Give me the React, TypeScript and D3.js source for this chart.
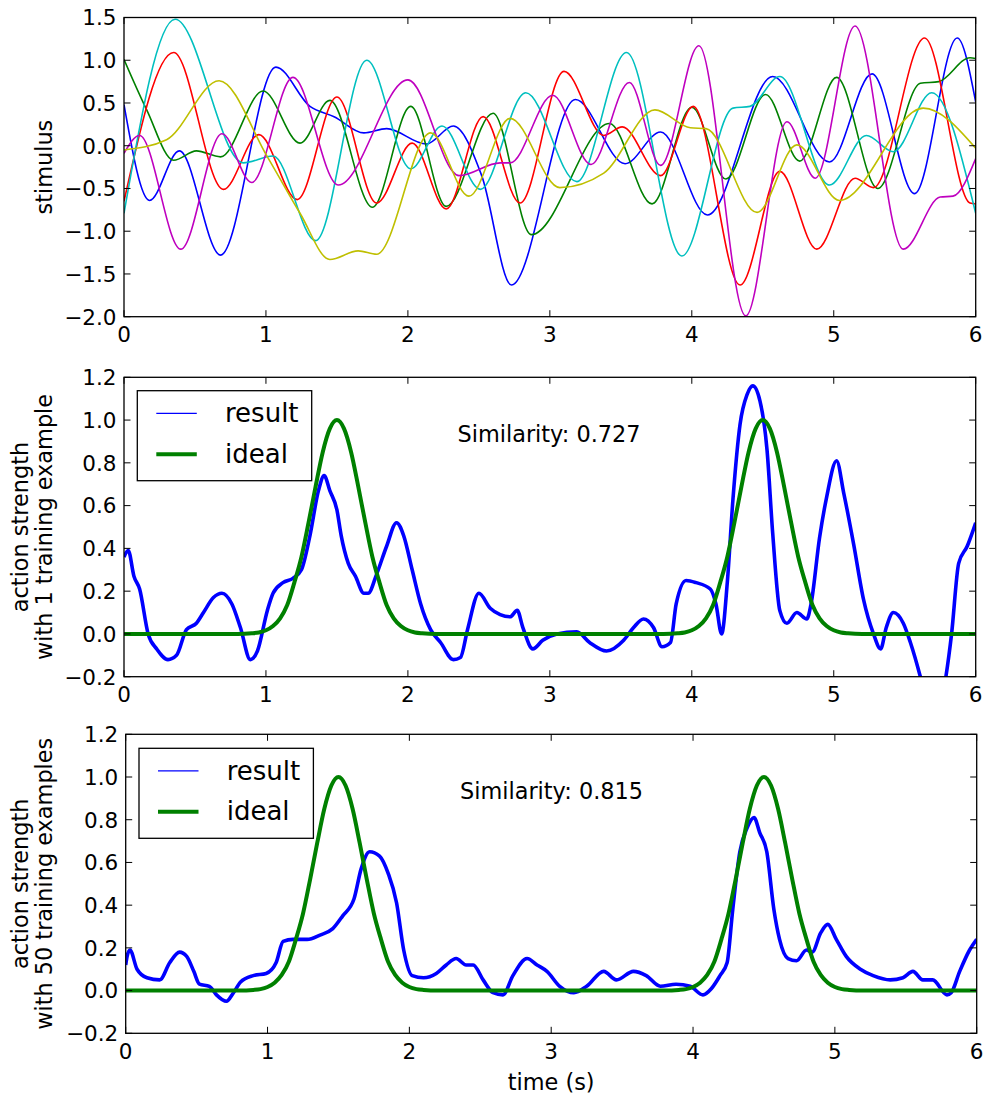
import React from "react";
import * as d3 from "d3";

// ---------- DATA ----------
const timeTicks = [0, 1, 2, 3, 4, 5, 6];
const stimulusTicks = [-2.0, -1.5, -1.0, -0.5, 0.0, 0.5, 1.0, 1.5];
const strengthTicks = [-0.2, 0.0, 0.2, 0.4, 0.6, 0.8, 1.0, 1.2];

type P = [number, number];

const stimBlue: P[] = [[0,0.48],[0.18,-0.64],[0.39,-0.06],[0.68,-1.28],[1.07,0.92],[1.31,0.46],[1.48,0.34],[1.69,0.15],[1.85,0.20],[2.13,0.02],[2.32,0.23],[2.52,-0.35],[2.73,-1.63],[3.18,0.54],[3.53,-0.21],[3.78,0.16],[4.11,-0.81],[4.57,0.81],[4.97,-0.19],[5.27,0.84],[5.57,-0.56],[5.87,1.26],[6.0,0.51]];
const stimGreen: P[] = [[0,1.01],[0.16,0.42],[0.35,-0.17],[0.51,-0.06],[0.68,-0.13],[0.98,0.64],[1.24,0.03],[1.45,0.53],[1.75,-0.72],[2.02,0.46],[2.27,-0.71],[2.6,0.38],[2.87,-1.04],[3.42,0.26],[3.72,-0.68],[4.0,0.45],[4.24,-0.39],[4.52,0.60],[4.76,-0.18],[5.02,0.80],[5.31,-0.50],[5.61,0.73],[5.74,0.75],[5.96,1.03],[6.0,1.02]];
const stimRed: P[] = [[0,-0.65],[0.35,1.09],[0.70,-0.51],[0.95,0.13],[1.22,-0.63],[1.50,0.57],[1.78,-0.67],[2.03,0.03],[2.27,-0.74],[2.53,0.34],[2.79,-0.67],[3.10,0.87],[3.38,0.12],[3.51,0.22],[3.78,-0.35],[4.01,0.46],[4.34,-1.63],[4.62,-0.30],[4.88,-1.21],[5.15,-0.38],[5.28,-0.49],[5.64,1.26],[5.96,-0.67],[6.0,-0.68]];
const stimCyan: P[] = [[0,-0.79],[0.36,1.48],[0.84,-0.20],[1.05,-0.12],[1.35,-1.11],[1.71,1.0],[2.02,-0.27],[2.24,0.23],[2.51,-0.51],[2.83,0.62],[3.19,-0.42],[3.54,1.09],[3.93,-1.29],[4.29,0.44],[4.41,0.46],[4.62,0.81],[4.97,-0.46],[5.23,0.12],[5.42,-0.07],[5.69,0.62],[6.0,-0.79]];
const stimMagenta: P[] = [[0,-0.09],[0.11,0.12],[0.40,-1.21],[0.69,0.14],[0.90,-0.43],[1.19,0.80],[1.51,-0.46],[2.00,0.77],[2.36,-0.35],[2.65,-0.20],[2.72,-0.20],[3.02,0.59],[3.29,-0.22],[3.56,0.74],[3.78,-0.23],[4.05,1.17],[4.38,-1.99],[4.67,0.28],[4.87,-0.38],[5.15,1.40],[5.49,-1.21],[5.75,-0.60],[5.84,-0.59],[6.0,-0.15]];
const stimYellow: P[] = [[0,-0.05],[0.30,0.07],[0.67,0.76],[1.01,-0.13],[1.24,-0.79],[1.45,-1.33],[1.65,-1.23],[1.78,-1.27],[2.16,0.15],[2.43,-0.59],[2.72,0.32],[3.07,-0.49],[3.38,-0.32],[3.74,0.42],[3.99,0.21],[4.10,0.20],[4.46,-0.78],[4.74,0.01],[5.04,-0.64],[5.63,0.44],[6.0,-0.03]];

const result1: P[] = [[0,0.36],[0.03,0.39],[0.07,0.27],[0.11,0.21],[0.17,0.0],[0.23,-0.07],[0.31,-0.12],[0.37,-0.10],[0.44,0.02],[0.51,0.05],[0.56,0.10],[0.63,0.17],[0.69,0.19],[0.76,0.14],[0.82,0.03],[0.89,-0.12],[0.94,-0.08],[1.01,0.11],[1.05,0.19],[1.12,0.24],[1.19,0.26],[1.25,0.30],[1.31,0.46],[1.37,0.67],[1.41,0.74],[1.45,0.67],[1.50,0.58],[1.53,0.46],[1.58,0.33],[1.63,0.27],[1.69,0.19],[1.72,0.19],[1.78,0.28],[1.85,0.41],[1.92,0.52],[1.97,0.46],[2.03,0.30],[2.09,0.14],[2.16,0.02],[2.23,-0.04],[2.32,-0.12],[2.37,-0.11],[2.42,0.02],[2.50,0.19],[2.58,0.12],[2.65,0.09],[2.72,0.08],[2.77,0.11],[2.81,0.03],[2.88,-0.07],[2.95,-0.03],[3.05,0.0],[3.19,0.01],[3.28,-0.04],[3.40,-0.08],[3.52,-0.03],[3.59,0.03],[3.66,0.07],[3.73,0.03],[3.79,-0.06],[3.85,-0.04],[3.89,0.14],[3.96,0.25],[4.03,0.24],[4.13,0.21],[4.17,0.14],[4.21,0.0],[4.25,0.24],[4.29,0.63],[4.34,0.98],[4.39,1.12],[4.43,1.16],[4.48,1.09],[4.53,0.86],[4.57,0.47],[4.62,0.11],[4.67,0.05],[4.74,0.10],[4.81,0.07],[4.84,0.14],[4.90,0.45],[4.95,0.64],[5.02,0.81],[5.07,0.66],[5.14,0.42],[5.21,0.16],[5.28,0.0],[5.33,-0.07],[5.37,0.03],[5.42,0.10],[5.49,0.05],[5.54,-0.04],[5.61,-0.20],[5.70,-0.45],[5.79,-0.20],[5.83,0.0],[5.88,0.33],[5.94,0.41],[6.0,0.52]];

const result50: P[] = [[0,0.12],[0.01,0.16],[0.03,0.19],[0.08,0.10],[0.15,0.06],[0.24,0.05],[0.31,0.13],[0.38,0.18],[0.43,0.16],[0.48,0.09],[0.52,0.03],[0.59,0.02],[0.64,-0.02],[0.71,-0.05],[0.76,-0.01],[0.81,0.04],[0.90,0.07],[0.99,0.08],[1.06,0.13],[1.11,0.23],[1.18,0.24],[1.28,0.24],[1.37,0.26],[1.46,0.29],[1.53,0.35],[1.61,0.43],[1.66,0.57],[1.72,0.65],[1.79,0.63],[1.85,0.55],[1.91,0.41],[1.96,0.19],[2.02,0.07],[2.10,0.06],[2.19,0.08],[2.26,0.12],[2.33,0.15],[2.40,0.12],[2.45,0.12],[2.52,0.05],[2.59,-0.01],[2.66,-0.02],[2.73,0.07],[2.83,0.15],[2.90,0.12],[2.97,0.09],[3.06,0.02],[3.16,-0.01],[3.25,0.02],[3.37,0.09],[3.46,0.05],[3.58,0.09],[3.67,0.07],[3.77,0.02],[3.88,0.03],[3.98,0.02],[4.07,-0.02],[4.13,0.01],[4.19,0.07],[4.24,0.13],[4.28,0.38],[4.33,0.65],[4.38,0.76],[4.43,0.81],[4.47,0.74],[4.52,0.65],[4.57,0.38],[4.61,0.24],[4.67,0.15],[4.73,0.14],[4.80,0.19],[4.84,0.18],[4.90,0.27],[4.95,0.31],[5.01,0.24],[5.08,0.16],[5.18,0.10],[5.27,0.07],[5.39,0.05],[5.48,0.06],[5.55,0.09],[5.62,0.05],[5.69,0.05],[5.79,-0.02],[5.82,-0.01],[5.88,0.09],[5.95,0.19],[6.0,0.24]];

const ideal: P[] = [[0,0],[0.8,0],[0.9,0.003],[0.95,0.007],[1.0,0.017],[1.05,0.037],[1.1,0.073],[1.15,0.135],[1.2,0.24],[1.25,0.36],[1.3,0.52],[1.35,0.69],[1.4,0.85],[1.45,0.96],[1.5,1.0],[1.55,0.96],[1.6,0.85],[1.65,0.69],[1.7,0.52],[1.75,0.36],[1.8,0.24],[1.85,0.135],[1.9,0.073],[1.95,0.037],[2.0,0.017],[2.05,0.007],[2.1,0.003],[2.2,0],[3.8,0],[3.9,0.003],[3.95,0.007],[4.0,0.017],[4.05,0.037],[4.1,0.073],[4.15,0.135],[4.2,0.24],[4.25,0.36],[4.3,0.52],[4.35,0.69],[4.4,0.85],[4.45,0.96],[4.5,1.0],[4.55,0.96],[4.6,0.85],[4.65,0.69],[4.7,0.52],[4.75,0.36],[4.8,0.24],[4.85,0.135],[4.9,0.073],[4.95,0.037],[5.0,0.017],[5.05,0.007],[5.1,0.003],[5.2,0],[6.0,0]];

const similarity = ["Similarity: 0.727", "Similarity: 0.815"];

// ---------- STYLE ----------
const FONT = "'DejaVu Sans', sans-serif";
const C = { b: "#0000ff", g: "#008000", r: "#ff0000", c: "#00bfbf", m: "#bf00bf", y: "#bfbf00" };
const fmt = d3.format(".1f");

type Panel = {
  id: string;
  x0: number; x1: number; top: number; bottom: number;
  yDomain: [number, number];
  yTicks: number[];
};

function Frame({ p, x, y }: { p: Panel; x: d3.ScaleLinear<number, number>; y: d3.ScaleLinear<number, number> }) {
  const tl = 6.5;
  return (
    <g>
      <rect x={p.x0} y={p.top} width={p.x1 - p.x0} height={p.bottom - p.top} fill="none" stroke="#000" strokeWidth={1.3} />
      {timeTicks.map((t) => (
        <g key={"xt" + t}>
          <line x1={x(t)} x2={x(t)} y1={p.bottom} y2={p.bottom - tl} stroke="#000" strokeWidth={1} />
          <line x1={x(t)} x2={x(t)} y1={p.top} y2={p.top + tl} stroke="#000" strokeWidth={1} />
          <text x={x(t)} y={p.bottom + 25.5} textAnchor="middle" fontSize={21.5} fontFamily={FONT}>{t}</text>
        </g>
      ))}
      {p.yTicks.map((v) => (
        <g key={"yt" + v}>
          <line x1={p.x0} x2={p.x0 + tl} y1={y(v)} y2={y(v)} stroke="#000" strokeWidth={1} />
          <line x1={p.x1} x2={p.x1 - tl} y1={y(v)} y2={y(v)} stroke="#000" strokeWidth={1} />
          <text x={p.x0 - 7.5} y={y(v) + 7.8} textAnchor="end" fontSize={21.5} fontFamily={FONT}>{fmt(v)}</text>
        </g>
      ))}
    </g>
  );
}

function Legend({ left, top }: { left: number; top: number }) {
  return (
    <g>
      <rect x={left} y={top} width={174.4} height={90} fill="#fff" stroke="#000" strokeWidth={1.3} />
      <line x1={left + 19} x2={left + 59.5} y1={top + 22.6} y2={top + 22.6} stroke={C.b} strokeWidth={1.3} />
      <text x={left + 87.7} y={top + 31.6} fontSize={26} fontFamily={FONT}>result</text>
      <line x1={left + 19} x2={left + 59.5} y1={top + 63.5} y2={top + 63.5} stroke={C.g} strokeWidth={4} />
      <text x={left + 87.7} y={top + 72} fontSize={26} fontFamily={FONT}>ideal</text>
    </g>
  );
}

export default function App() {
  const p1: Panel = { id: "p1", x0: 124, x1: 975.7, top: 17.5, bottom: 316.7, yDomain: [-2, 1.5], yTicks: stimulusTicks };
  const p2: Panel = { id: "p2", x0: 124, x1: 975.7, top: 377.3, bottom: 676.7, yDomain: [-0.2, 1.2], yTicks: strengthTicks };
  const p3: Panel = { id: "p3", x0: 125.7, x1: 976.7, top: 734.3, bottom: 1033.3, yDomain: [-0.2, 1.2], yTicks: strengthTicks };

  const mk = (p: Panel) => {
    const x = d3.scaleLinear().domain([0, 6]).range([p.x0, p.x1]);
    const y = d3.scaleLinear().domain(p.yDomain).range([p.bottom, p.top]);
    return { x, y };
  };
  const s1 = mk(p1), s2 = mk(p2), s3 = mk(p3);

  const smooth = (s: { x: any; y: any }) =>
    d3.line<P>().x((d) => s.x(d[0])).y((d) => s.y(d[1])).curve(d3.curveMonotoneX);

  const stim: [P[], string][] = [
    [stimBlue, C.b], [stimGreen, C.g], [stimRed, C.r], [stimCyan, C.c], [stimMagenta, C.m], [stimYellow, C.y],
  ];

  const clip = (p: Panel) => (
    <clipPath id={"clip-" + p.id}>
      <rect x={p.x0} y={p.top} width={p.x1 - p.x0} height={p.bottom - p.top} />
    </clipPath>
  );

  return (
    <svg width={992} height={1103} style={{ position: "absolute", left: 0, top: 0, background: "#fff" }}>
      <defs>
        {clip(p1)}
        {clip(p2)}
        {clip(p3)}
      </defs>
      <rect x={0} y={0} width={992} height={1103} fill="#fff" />

      {/* Panel 1 */}
      <g clipPath="url(#clip-p1)">
        {stim.map(([d, c], i) => (
          <path key={i} d={smooth(s1)(d) || ""} fill="none" stroke={c} strokeWidth={1.6} />
        ))}
      </g>
      <Frame p={p1} x={s1.x} y={s1.y} />
      <text transform={`translate(51.7,${(p1.top + p1.bottom) / 2}) rotate(-90)`} textAnchor="middle" fontSize={22.4} fontFamily={FONT}>stimulus</text>

      {/* Panel 2 */}
      <g clipPath="url(#clip-p2)">
        <path d={smooth(s2)(result1) || ""} fill="none" stroke={C.b} strokeWidth={3.6} strokeLinejoin="round" />
        <path d={smooth(s2)(ideal) || ""} fill="none" stroke={C.g} strokeWidth={4} />
      </g>
      <Frame p={p2} x={s2.x} y={s2.y} />
      <Legend left={137.3} top={390.7} />
      <text x={457.5} y={441.7} fontSize={22.4} fontFamily={FONT}>{similarity[0]}</text>
      <text transform={`translate(28.3,${(p2.top + p2.bottom) / 2}) rotate(-90)`} textAnchor="middle" fontSize={22.4} fontFamily={FONT}>action strength</text>
      <text transform={`translate(51.7,${(p2.top + p2.bottom) / 2}) rotate(-90)`} textAnchor="middle" fontSize={22.4} fontFamily={FONT}>with 1 training example</text>

      {/* Panel 3 */}
      <g clipPath="url(#clip-p3)">
        <path d={smooth(s3)(result50) || ""} fill="none" stroke={C.b} strokeWidth={3.6} strokeLinejoin="round" />
        <path d={smooth(s3)(ideal) || ""} fill="none" stroke={C.g} strokeWidth={4} />
      </g>
      <Frame p={p3} x={s3.x} y={s3.y} />
      <Legend left={139} top={748.3} />
      <text x={460} y={799.3} fontSize={22.4} fontFamily={FONT}>{similarity[1]}</text>
      <text transform={`translate(28,${(p3.top + p3.bottom) / 2}) rotate(-90)`} textAnchor="middle" fontSize={22.4} fontFamily={FONT}>action strength</text>
      <text transform={`translate(51.7,${(p3.top + p3.bottom) / 2}) rotate(-90)`} textAnchor="middle" fontSize={22.4} fontFamily={FONT}>with 50 training examples</text>
      <text x={(p3.x0 + p3.x1) / 2} y={1090} textAnchor="middle" fontSize={22.4} fontFamily={FONT}>time (s)</text>
    </svg>
  );
}
